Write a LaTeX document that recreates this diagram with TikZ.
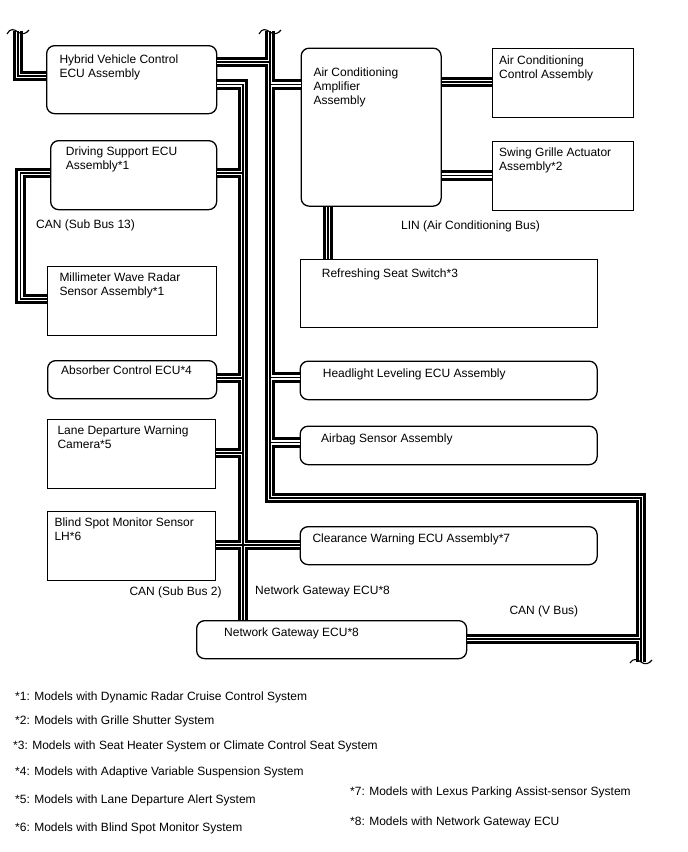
\documentclass[tikz,border=0pt]{standalone}
\usepackage{fontspec}
\setmainfont{Liberation Sans}
\begin{document}
\begin{tikzpicture}[x=1pt,y=-1pt,
  rbox/.style={draw, line width=1.3pt, rounded corners=8pt, fill=white, anchor=north west, inner sep=0pt},
  sbox/.style={draw, line width=1.3pt, fill=white, anchor=north west, inner sep=0pt},
  txt/.style={anchor=base west, inner sep=0pt, font=\fontsize{12}{14}\selectfont, align=left},
  bus/.style={draw=black, line width=10.5pt,
    postaction={draw=white, line width=4.8pt},
    postaction={draw=black, line width=1.4pt}},
  wave/.style={draw=black, line width=1.1pt}]
\useasboundingbox (0,0) rectangle (688,852);

% ---------- boxes ----------
\node[rbox, minimum width=170pt, minimum height=68pt] (hv) at (46,45) {};
\node[rbox, minimum width=166pt, minimum height=69pt] (ds) at (50,140) {};
\node[sbox, minimum width=169pt, minimum height=69pt] (mm) at (46.5,266) {};
\node[rbox, minimum width=169pt, minimum height=38pt] (abs) at (47,360) {};
\node[sbox, minimum width=168pt, minimum height=69pt] (ld) at (47,419) {};
\node[sbox, minimum width=168pt, minimum height=69pt] (bs) at (47,510.5) {};
\node[rbox, minimum width=140pt, minimum height=158pt] (acamp) at (300.5,47.5) {};
\node[sbox, minimum width=141pt, minimum height=69pt] (acc) at (492,48) {};
\node[sbox, minimum width=141pt, minimum height=69pt] (sg) at (492,141) {};
\node[sbox, minimum width=297pt, minimum height=68pt] (rs) at (299.5,259) {};
\node[rbox, minimum width=297pt, minimum height=38.5pt] (hl) at (299.5,360.5) {};
\node[rbox, minimum width=297pt, minimum height=38.5pt] (ab) at (299.5,425.5) {};
\node[rbox, minimum width=297pt, minimum height=38pt] (cw) at (299.5,526) {};
\node[rbox, minimum width=270pt, minimum height=38pt] (gw) at (196,620) {};

% ---------- junction coordinates ----------
\coordinate (lt) at (18,31);
\coordinate (ltc) at (18,76);
\coordinate (vt) at (270,31);
\coordinate (vhv) at (270,62);
\coordinate (vac) at (270,84.5);
\coordinate (vhl) at (270,377.5);
\coordinate (vab) at (270,442.5);
\coordinate (vc1) at (270,498);
\coordinate (vc2) at (641,498);
\coordinate (vgw) at (641,639);
\coordinate (vb) at (641,662);
\coordinate (sc) at (243,84.5);
\coordinate (sds) at (243,173);
\coordinate (sab) at (243,378);
\coordinate (sld) at (243,453);
\coordinate (sbs) at (243,545);
\coordinate (d1) at (20.5,173);
\coordinate (d2) at (20.5,299);
\coordinate (lac) at (441,82);
\coordinate (lsg) at (441,175.5);
\coordinate (lrs) at (328,205);

% ---------- buses ----------
\path[bus]
  (lt) -- (ltc) -- (hv.west |- ltc)
  (vt) -- (vc1) -- (vc2) -- (vb)
  (hv.east |- vhv) -- (vhv)
  (vac) -- (acamp.west |- vac)
  (vhl) -- (hl.west |- vhl)
  (vab) -- (ab.west |- vab)
  (vgw) -- (gw.east |- vgw)
  (hv.east |- sc) -- (sc) -- (sc |- gw.north)
  (ds.east |- sds) -- (sds)
  (abs.east |- sab) -- (sab)
  (ld.east |- sld) -- (sld)
  (bs.east |- sbs) -- (cw.west |- sbs)
  (ds.west |- d1) -- (d1) -- (d2) -- (mm.west |- d2)
  (acamp.east |- lac) -- (acc.west |- lac)
  (acamp.east |- lsg) -- (sg.west |- lsg)
  (acamp.south -| lrs) -- (rs.north -| lrs);

% ---------- break marks ----------
\begin{scope}[shift={(lt)}]
  \path[wave] (-11,3) .. controls (-8,-3) and (-4,-2) .. (0,1) .. controls (4,4) and (8,3) .. (11,-1);
\end{scope}
\begin{scope}[shift={(vt)}]
  \path[wave] (-11,3) .. controls (-8,-3) and (-4,-2) .. (0,1) .. controls (4,4) and (8,3) .. (11,-1);
\end{scope}
\begin{scope}[shift={(vb)}]
  \path[wave] (-11,1) .. controls (-8,-4) and (-4,-3) .. (0,0) .. controls (4,3) and (8,2) .. (11,-2);
\end{scope}

% ---------- texts (base = baseline of last line) ----------
\node[txt] (thv) at (59.3,77) {Hybrid Vehicle Control\\ECU Assembly};
\node[txt] (tds) at (65.7,169) {Driving Support ECU\\Assembly*1};
\node[txt] (tmm) at (59.3,295.7) {Millimeter Wave Radar\\Sensor Assembly*1};
\node[txt] (tabs) at (61,374.5) {Absorber Control ECU*4};
\node[txt] (tld) at (57.3,448.3) {Lane Departure Warning\\Camera*5};
\node[txt] (tbs) at (54.3,540.7) {Blind Spot Monitor Sensor\\LH*6};
\node[txt] (tac) at (313.3,104) {Air Conditioning\\Amplifier\\Assembly};
\node[txt] (tacc) at (499,78) {Air Conditioning\\Control Assembly};
\node[txt] (tsg) at (499,170) {Swing Grille Actuator\\Assembly*2};
\node[txt] (trs) at (321.7,277.7) {Refreshing Seat Switch*3};
\node[txt] (thl) at (322.7,377.3) {Headlight Leveling ECU Assembly};
\node[txt] (tab) at (321,442.3) {Airbag Sensor Assembly};
\node[txt] (tcw) at (312.3,542.7) {Clearance Warning ECU Assembly*7};
\node[txt] (tgw) at (224,636) {Network Gateway ECU*8};

\node[txt] (l13) at (36,228.3) {CAN (Sub Bus 13)};
\node[txt] (llin) at (401,229) {LIN (Air Conditioning Bus)};
\node[txt] (l2) at (129.3,595) {CAN (Sub Bus 2)};
\node[txt] (lngw) at (255,594) {Network Gateway ECU*8};
\node[txt] (lv) at (509.3,614) {CAN (V Bus)};

\node[txt] (f1) at (15,700) {*1: Models with Dynamic Radar Cruise Control System};
\node[txt] (f2) at (15,724) {*2: Models with Grille Shutter System};
\node[txt] (f3) at (13,749) {*3: Models with Seat Heater System or Climate Control Seat System};
\node[txt] (f4) at (15,775) {*4: Models with Adaptive Variable Suspension System};
\node[txt] (f5) at (15,803) {*5: Models with Lane Departure Alert System};
\node[txt] (f6) at (15,831) {*6: Models with Blind Spot Monitor System};
\node[txt] (f7) at (350,795) {*7: Models with Lexus Parking Assist-sensor System};
\node[txt] (f8) at (350,825) {*8: Models with Network Gateway ECU};
\end{tikzpicture}
\end{document}
